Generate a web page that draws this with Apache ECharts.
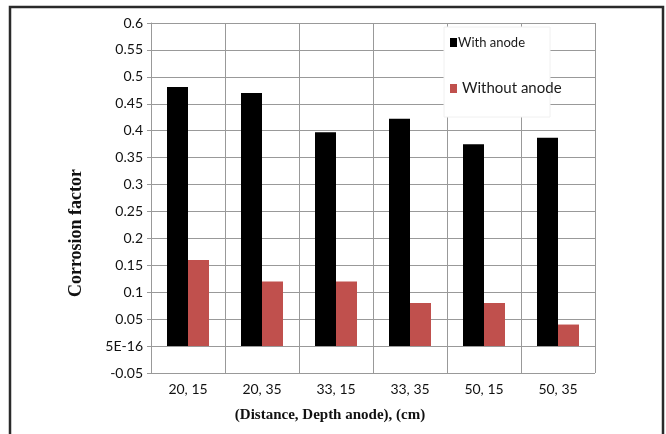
<!DOCTYPE html>
<html>
<head>
<meta charset="utf-8">
<title>Corrosion factor</title>
<script src="https://cdn.jsdelivr.net/npm/echarts@6/dist/echarts.min.js"></script>
<style>
  html, body { margin: 0; padding: 0; background: #fff; }
  #chart { width: 666px; height: 434px; }
</style>
</head>
<body>
<div id="chart"></div>
<script>
// (Distance, Depth anode) pairs in cm
const categories = ['20, 15', '20, 35', '33, 15', '33, 35', '50, 15', '50, 35'];
const withAnode = [0.481, 0.470, 0.397, 0.422, 0.375, 0.387];
const withoutAnode = [0.16, 0.12, 0.12, 0.08, 0.08, 0.04];
// y-axis tick labels from -0.05 up to 0.6, step 0.05
const yTickLabels = ['-0.05', '5E-16', '0.05', '0.1', '0.15', '0.2', '0.25', '0.3',
  '0.35', '0.4', '0.45', '0.5', '0.55', '0.6'];

const gridColor = '#999';
const labelFont = 'Lato, "Open Sans", sans-serif';

const chart = echarts.init(document.getElementById('chart'), null, { renderer: 'canvas' });

chart.setOption({
  animation: false,
  backgroundColor: '#fff',
  grid: { left: 151, right: 71, top: 23, bottom: 61, containLabel: false, outerBoundsMode: 'none' },
  xAxis: {
    type: 'category',
    data: categories,
    name: '(Distance, Depth anode), (cm)',
    nameLocation: 'middle',
    nameGap: 35,
    nameTextStyle: {
      fontFamily: '"Liberation Serif", "DejaVu Serif", serif',
      fontWeight: 'bold', fontSize: 15, color: '#111',
      padding: [0, 86, 0, 0]
    },
    axisLine: { show: true, onZero: true, lineStyle: { color: gridColor } },
    axisTick: { show: false },
    axisLabel: { fontFamily: labelFont, fontSize: 14, color: '#111', margin: 9 },
    splitLine: { show: true, lineStyle: { color: gridColor, width: 1 } }
  },
  yAxis: {
    type: 'value',
    min: -0.05,
    max: 0.6,
    interval: 0.05,
    name: 'Corrosion factor',
    nameLocation: 'middle',
    nameGap: 66,
    nameTextStyle: {
      fontFamily: '"Liberation Serif", "DejaVu Serif", serif',
      fontWeight: 'bold', fontSize: 18, color: '#111',
      padding: [0, 70, 0, 0]
    },
    axisLine: { show: true, lineStyle: { color: gridColor } },
    axisTick: { show: true, length: 4, lineStyle: { color: gridColor } },
    axisLabel: {
      fontFamily: labelFont, fontSize: 14, color: '#111', margin: 8,
      formatter: function (v) {
        const i = Math.round(v / 0.05) + 1;
        return yTickLabels[i] !== undefined ? yTickLabels[i] : '';
      }
    },
    splitLine: { show: true, lineStyle: { color: gridColor, width: 1 } }
  },
  legend: [
    {
      data: ['With anode'],
      left: 448, top: 34,
      icon: 'rect', itemWidth: 7, itemHeight: 9,
      padding: 2,
      z: 20,
      textStyle: { fontFamily: labelFont, fontSize: 13, color: '#1a1a1a', padding: [0, 0, 0, -4] }
    },
    {
      data: ['Without anode'],
      left: 448, top: 79,
      icon: 'rect', itemWidth: 7, itemHeight: 9,
      padding: 2,
      z: 20,
      textStyle: { fontFamily: labelFont, fontSize: 15, color: '#1a1a1a' }
    }
  ],
  graphic: [
    {
      // legend panel
      type: 'rect', z: 15,
      shape: { x: 444, y: 27, width: 106, height: 90 },
      style: { fill: '#fff', stroke: '#f0f0f0', lineWidth: 1 }
    },
    {
      // frame round the figure
      type: 'rect', z: 30, silent: true,
      shape: { x: 10, y: 7, width: 653, height: 440 },
      style: { fill: 'none', stroke: '#2a2a2a', lineWidth: 2.5 }
    }
  ],
  series: [
    {
      name: 'With anode',
      type: 'bar',
      data: withAnode,
      barWidth: 21,
      barGap: '0%',
      itemStyle: { color: '#000' }
    },
    {
      name: 'Without anode',
      type: 'bar',
      data: withoutAnode,
      barWidth: 21,
      itemStyle: { color: '#C0504D' }
    }
  ]
});
</script>
</body>
</html>
